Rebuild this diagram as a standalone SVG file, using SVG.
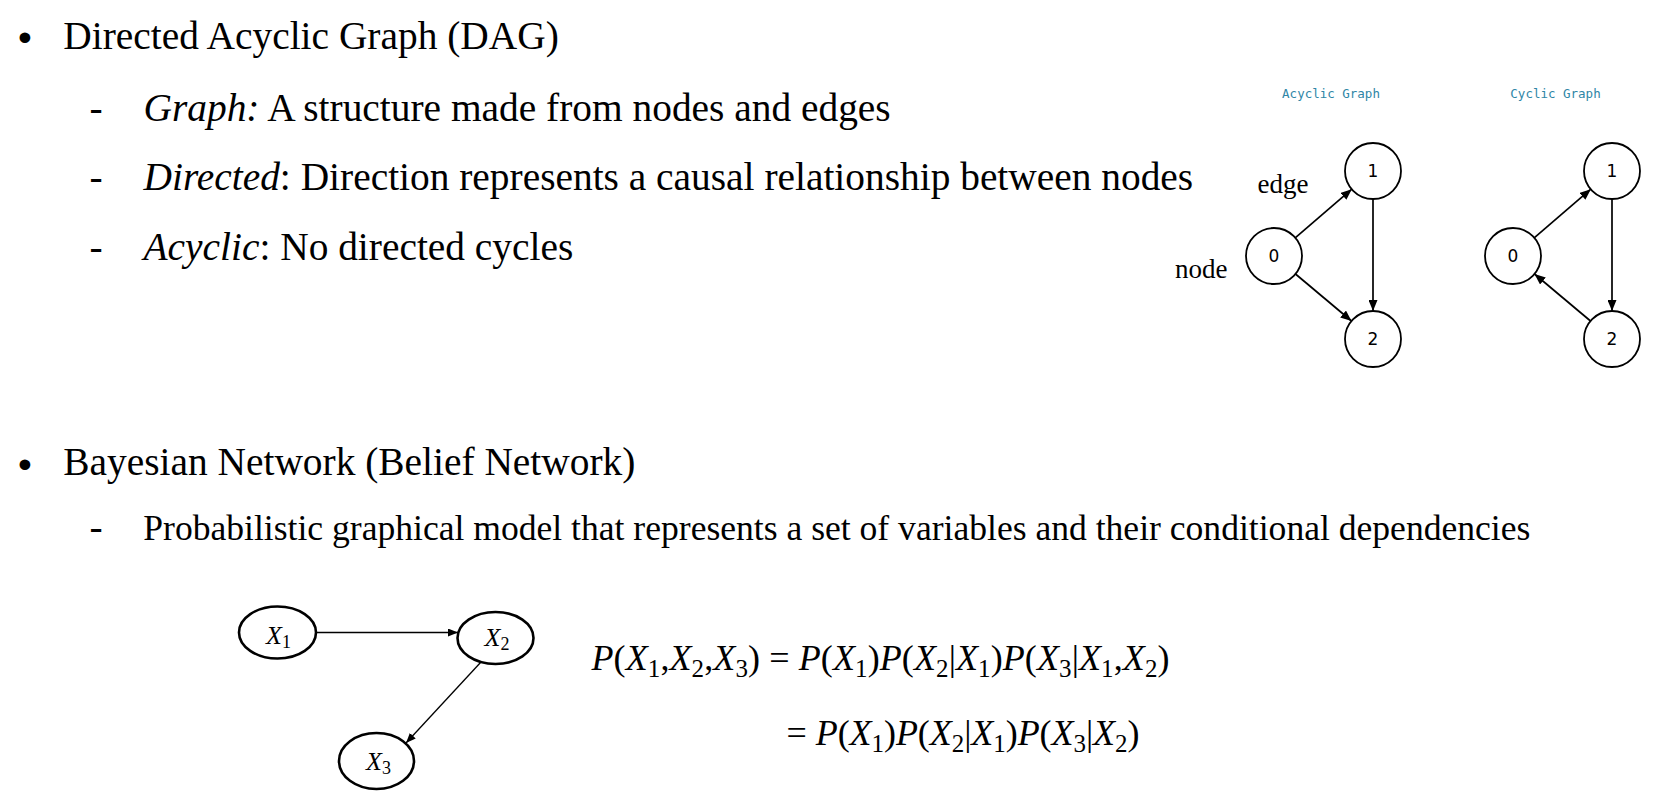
<svg xmlns="http://www.w3.org/2000/svg" width="1659" height="807" viewBox="0 0 1659 807">
<defs>
<style>
.t{font-family:"Liberation Serif","Times New Roman",serif;font-size:39.4px;fill:#000}
.t6{font-size:35.6px}
.i{font-style:italic}
.bul{font-family:"Liberation Sans",Arial,sans-serif;font-size:39.4px;fill:#000}
.cap{font-family:"DejaVu Sans Mono","Liberation Mono",monospace;font-size:12.5px;fill:#2f86a6;text-anchor:middle}
.lbl{font-family:"Liberation Serif","Times New Roman",serif;font-size:27px;fill:#000}
.nc{fill:#fff;stroke:#000;stroke-width:1.8}
.nt{font-family:"DejaVu Sans","Liberation Sans",sans-serif;font-size:17px;fill:#000;text-anchor:middle}
.e{stroke:#000;stroke-width:1.7;fill:none}
.be{stroke:#000;stroke-width:1.3;fill:none}
.el{fill:#fff;stroke:#000;stroke-width:2.6}
.m{font-family:"Liberation Serif","Times New Roman",serif;font-size:36px;fill:#000}
.ml{font-family:"Liberation Serif","Times New Roman",serif;font-size:26px;fill:#000}
</style>
<marker id="arr" markerUnits="userSpaceOnUse" markerWidth="12" markerHeight="9" refX="11" refY="4.5" orient="auto">
<path d="M0,0 L11,4.5 L0,9 z" fill="#000"/>
</marker>
<marker id="arr2" markerUnits="userSpaceOnUse" markerWidth="11" markerHeight="8" refX="10" refY="4" orient="auto">
<path d="M0,0 L10,4 L0,8 z" fill="#000"/>
</marker>
</defs>
<rect width="1659" height="807" fill="#fff"/>

<g id="text">
<text class="bul" x="18" y="51">•</text>
<text class="t" x="63.3" y="48.5">Directed Acyclic Graph (DAG)</text>
<text class="t" x="89.5" y="121">-</text>
<text class="t" x="143.5" y="121"><tspan class="i">Graph:</tspan> A structure made from nodes and edges</text>
<text class="t" x="89.5" y="190">-</text>
<text class="t" x="143.5" y="190"><tspan class="i">Directed</tspan>: Direction represents a causal relationship between nodes</text>
<text class="t" x="89.5" y="260">-</text>
<text class="t" x="143.5" y="260"><tspan class="i">Acyclic</tspan>: No directed cycles</text>
<text class="bul" x="18" y="478">•</text>
<text class="t" x="63.3" y="475">Bayesian Network (Belief Network)</text>
<text class="t" x="89.5" y="540">-</text>
<text class="t t6" x="143.3" y="540">Probabilistic graphical model that represents a set of variables and their conditional dependencies</text>
</g>

<g id="captions">
<text class="cap" x="1331" y="97.5">Acyclic Graph</text>
<text class="cap" x="1555.5" y="97.5">Cyclic Graph</text>
<text class="lbl" x="1257.5" y="193">edge</text>
<text class="lbl" x="1175" y="277.5">node</text>
</g>

<g id="connectors">
<line class="e" x1="1295.2" y1="237.8" x2="1351.8" y2="189.2" marker-end="url(#arr)"/>
<line class="e" x1="1373" y1="199" x2="1373" y2="311" marker-end="url(#arr)"/>
<line class="e" x1="1295.5" y1="274" x2="1351.5" y2="321" marker-end="url(#arr)"/>
<line class="e" x1="1534.2" y1="237.8" x2="1590.8" y2="189.2" marker-end="url(#arr)"/>
<line class="e" x1="1612" y1="199" x2="1612" y2="311" marker-end="url(#arr)"/>
<line class="e" x1="1590.5" y1="321" x2="1534.5" y2="274" marker-end="url(#arr)"/>
<line class="be" x1="316" y1="632.5" x2="458" y2="632.5" marker-end="url(#arr2)"/>
<line class="be" x1="481" y1="662" x2="406" y2="743" marker-end="url(#arr2)"/>
</g>

<g id="a0"><circle class="nc" cx="1274" cy="256" r="28"/><text class="nt" x="1274" y="262">0</text></g>
<g id="a1"><circle class="nc" cx="1373" cy="171" r="28"/><text class="nt" x="1373" y="177">1</text></g>
<g id="a2"><circle class="nc" cx="1373" cy="339" r="28"/><text class="nt" x="1373" y="345">2</text></g>
<g id="c0"><circle class="nc" cx="1513" cy="256" r="28"/><text class="nt" x="1513" y="262">0</text></g>
<g id="c1"><circle class="nc" cx="1612" cy="171" r="28"/><text class="nt" x="1612" y="177">1</text></g>
<g id="c2"><circle class="nc" cx="1612" cy="339" r="28"/><text class="nt" x="1612" y="345">2</text></g>

<g id="x1"><ellipse class="el" cx="277.5" cy="632.5" rx="38.5" ry="26"/><text class="ml" x="266" y="644"><tspan class="i">X</tspan><tspan font-size="18" dy="4">1</tspan></text></g>
<g id="x2"><ellipse class="el" cx="495.5" cy="638" rx="38" ry="26"/><text class="ml" x="484.5" y="646"><tspan class="i">X</tspan><tspan font-size="18" dy="4">2</tspan></text></g>
<g id="x3"><ellipse class="el" cx="376.5" cy="761" rx="37.5" ry="28"/><text class="ml" x="366" y="770"><tspan class="i">X</tspan><tspan font-size="18" dy="4">3</tspan></text></g>

<g id="formula">
<text class="m" x="591.5" y="670" textLength="578" lengthAdjust="spacing"><tspan class="i">P</tspan>(<tspan class="i">X</tspan><tspan font-size="25" dy="7">1</tspan><tspan dy="-7">,</tspan><tspan class="i">X</tspan><tspan font-size="25" dy="7">2</tspan><tspan dy="-7">,</tspan><tspan class="i">X</tspan><tspan font-size="25" dy="7">3</tspan><tspan dy="-7">) = </tspan><tspan class="i">P</tspan>(<tspan class="i">X</tspan><tspan font-size="25" dy="7">1</tspan><tspan dy="-7">)</tspan><tspan class="i">P</tspan>(<tspan class="i">X</tspan><tspan font-size="25" dy="7">2</tspan><tspan dy="-7">|</tspan><tspan class="i">X</tspan><tspan font-size="25" dy="7">1</tspan><tspan dy="-7">)</tspan><tspan class="i">P</tspan>(<tspan class="i">X</tspan><tspan font-size="25" dy="7">3</tspan><tspan dy="-7">|</tspan><tspan class="i">X</tspan><tspan font-size="25" dy="7">1</tspan><tspan dy="-7">,</tspan><tspan class="i">X</tspan><tspan font-size="25" dy="7">2</tspan><tspan dy="-7">)</tspan></text>
<text class="m" x="786.5" y="745" textLength="353" lengthAdjust="spacing">= <tspan class="i">P</tspan>(<tspan class="i">X</tspan><tspan font-size="25" dy="7">1</tspan><tspan dy="-7">)</tspan><tspan class="i">P</tspan>(<tspan class="i">X</tspan><tspan font-size="25" dy="7">2</tspan><tspan dy="-7">|</tspan><tspan class="i">X</tspan><tspan font-size="25" dy="7">1</tspan><tspan dy="-7">)</tspan><tspan class="i">P</tspan>(<tspan class="i">X</tspan><tspan font-size="25" dy="7">3</tspan><tspan dy="-7">|</tspan><tspan class="i">X</tspan><tspan font-size="25" dy="7">2</tspan><tspan dy="-7">)</tspan></text>
</g>
</svg>
